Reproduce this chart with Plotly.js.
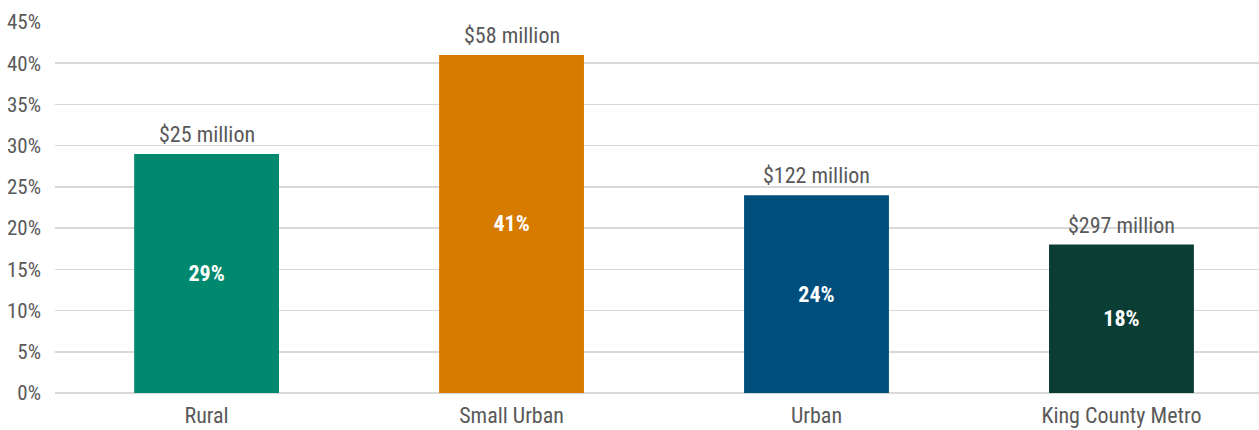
<!DOCTYPE html>
<html><head><meta charset="utf-8">
<script src="https://cdn.plot.ly/plotly-3.0.1.min.js"></script>
<style>html,body{margin:0;padding:0;background:#fff}#chart{width:1259px;height:430px}</style>
</head><body><div id="chart"></div>
<script>
const categories = ["Rural", "Small Urban", "Urban", "King County Metro"];
const shares = [29, 41, 24, 18];
const shareLabels = ["29%", "41%", "24%", "18%"];
const fundingLabels = ["$25 million", "$58 million", "$122 million", "$297 million"];
const barColors = ["#00896E", "#D67A00", "#004E7C", "#0A3D34"];
const tickVals = [0, 5, 10, 15, 20, 25, 30, 35, 40, 45];
const tickText = ["0%", "5%", "10%", "15%", "20%", "25%", "30%", "35%", "40%", "45%"];

const FONT = '"Roboto Condensed", "Liberation Sans Narrow", Roboto, sans-serif';

const bars = {
  type: 'bar', x: categories, y: shares,
  marker: {color: barColors, line: {width: 0}},
  text: shareLabels, textposition: 'inside', insidetextanchor: 'middle',
  textfont: {family: FONT, size: 22, color: '#ffffff', weight: 'bold'},
  hoverinfo: 'none', cliponaxis: false
};

const annotations = categories.map((c, i) => ({
  x: c, y: shares[i], xref: 'x', yref: 'y', text: fundingLabels[i],
  showarrow: false, yanchor: 'bottom', yshift: 5,
  font: {family: FONT, size: 22, color: '#595959'}
}));

const layout = {
  width: 1259, height: 430,
  margin: {l: 55, r: 0, t: 22, b: 37},
  paper_bgcolor: '#ffffff', plot_bgcolor: '#ffffff',
  bargap: 0.525, showlegend: false,
  font: {family: FONT, size: 21, color: '#595959'},
  xaxis: {type: 'category', range: [-0.497, 3.451], showgrid: false, zeroline: false, showline: false,
    ticks: '', ticklabelstandoff: 7, tickfont: {family: FONT, size: 22, color: '#595959'}},
  yaxis: {range: [0, 45], tickvals: tickVals, ticktext: tickText,
    showgrid: true, gridcolor: '#D9D9D9', gridwidth: 1.5,
    zeroline: true, zerolinecolor: '#D9D9D9', zerolinewidth: 1.5,
    showline: false, ticks: '', ticklabelstandoff: 13,
    tickfont: {family: FONT, size: 21, color: '#595959'}},
  annotations: annotations
};

Plotly.newPlot('chart', [bars], layout, {displayModeBar: false, staticPlot: true});
</script></body></html>
